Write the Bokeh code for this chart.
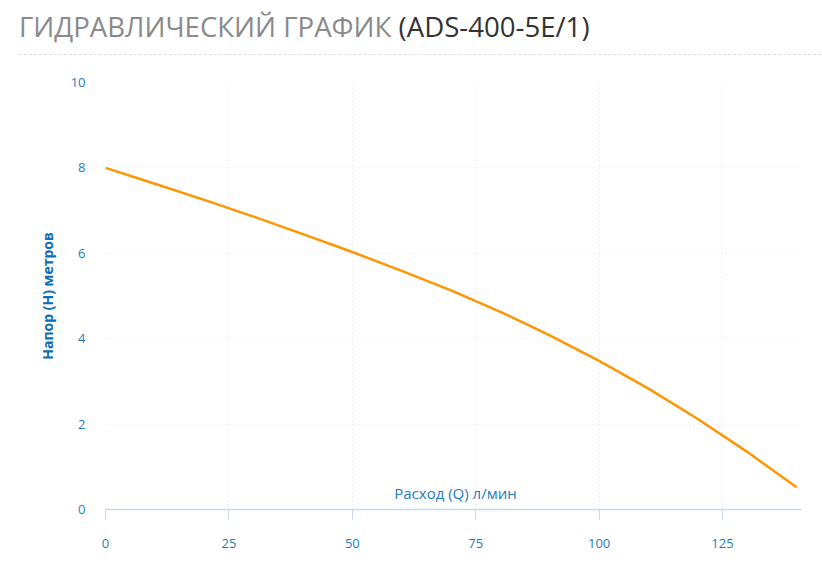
from bokeh.plotting import figure
from bokeh.models import Range1d, Label, FixedTicker, Div
from bokeh.layouts import column
from bokeh.embed import file_html
from bokeh.resources import INLINE

# ---- data ----
flow = [0, 10, 20, 30, 40, 50, 60, 70, 80, 90, 100, 110, 120, 130, 140]
head = [8.00, 7.63, 7.25, 6.86, 6.45, 6.03, 5.59, 5.13, 4.63, 4.08, 3.48, 2.83, 2.12, 1.35, 0.52]
x_ticks = [0, 25, 50, 75, 100, 125]
y_ticks = [0, 2, 4, 6, 8, 10]
title_main = "ГИДРАВЛИЧЕСКИЙ ГРАФИК"
title_model = "(ADS-400-5E/1)"
x_title = "Расход (Q) л/мин"
y_title = "Напор (H) метров"

FONT = "Open Sans"
BLUE = "#1f7bc1"
TITLE_H = 56

header = Div(
    text=(
        '<div style="height:55px;width:802px;margin-left:19px;box-sizing:border-box;'
        'border-bottom:1px dashed #dedede;padding-top:13px;'
        'font-family:\'Open Sans\';font-size:27.6px;line-height:1;white-space:nowrap">'
        f'<span style="color:#8a8a8a">{title_main}</span> '
        f'<span style="color:#333333">{title_model}</span></div>'
    ),
    width=822, height=TITLE_H, margin=0,
)

p = figure(width=815, height=575 - TITLE_H, x_range=Range1d(0, 141), y_range=Range1d(0, 10),
           output_backend="svg", toolbar_location=None,
           min_border_left=105, min_border_right=14, min_border_top=82 - TITLE_H,
           min_border_bottom=66)
p.outline_line_color = None

p.xaxis.ticker = FixedTicker(ticks=x_ticks)
p.yaxis.ticker = FixedTicker(ticks=y_ticks)

p.xgrid.grid_line_color = "#e6e6e6"
p.xgrid.grid_line_dash = "1 3"
p.ygrid.grid_line_color = "#e6e6e6"
p.ygrid.grid_line_dash = "1 3"

p.xaxis.axis_line_color = "#ccd6eb"
p.xaxis.axis_line_width = 1.5
p.xaxis.major_tick_line_color = "#ccd6eb"
p.xaxis.major_tick_out = 10
p.xaxis.major_tick_in = 0
p.xaxis.minor_tick_line_color = None
p.xaxis.major_label_standoff = 19
p.xaxis.major_label_text_color = BLUE
p.xaxis.major_label_text_font = FONT
p.xaxis.major_label_text_font_size = "13px"

p.yaxis.axis_line_color = None
p.yaxis.major_tick_line_color = None
p.yaxis.minor_tick_line_color = None
p.yaxis.major_label_standoff = 14
p.yaxis.major_label_text_color = BLUE
p.yaxis.major_label_text_font = FONT
p.yaxis.major_label_text_font_size = "13px"
p.yaxis.axis_label = y_title
p.yaxis.axis_label_text_font = FONT
p.yaxis.axis_label_text_font_size = "14px"
p.yaxis.axis_label_text_font_style = "bold"
p.yaxis.axis_label_text_color = "#0a6db6"
p.yaxis.axis_label_standoff = 11

p.line(flow, head, line_color="#ff9500", line_width=2.5)

# x-axis title inside the plot area
p.add_layout(Label(x=70.9, y=0.375, text=x_title, text_font=FONT, text_font_size="15px",
                   text_color=BLUE, text_align="center", text_baseline="middle"))

layout = column(header, p, spacing=0)
open("out.html", "w").write(file_html(layout, INLINE))
